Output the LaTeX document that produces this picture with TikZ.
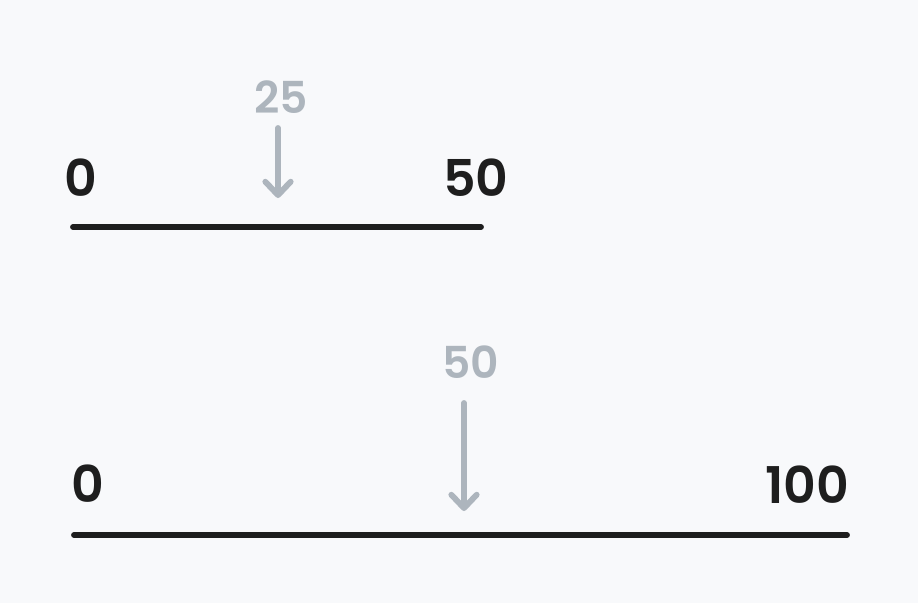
\documentclass[tikz,border=0pt]{standalone}
\usepackage{fontspec}
\setmainfont{Poppins}[BoldFont=Poppins SemiBold]
\usepackage{xcolor}
\usepackage{tikz}
\usetikzlibrary{arrows.meta}

\definecolor{bgcol}{HTML}{F8F9FB}
\definecolor{inkcol}{HTML}{1E1E1E}
\definecolor{markcol}{HTML}{ADB5BD}

\tikzset{
	numline/.style={draw=inkcol, line width=4.4pt, line cap=round},
	endlabel/.style={text=inkcol, inner sep=0pt, font=\fontsize{38}{40}\selectfont\bfseries},
	midlabel/.style={text=markcol, inner sep=0pt, font=\fontsize{33}{36}\selectfont\bfseries},
	pointer/.style={draw=markcol, line width=4.4pt, line cap=round,
		-{Straight Barb[length=10pt, width=19pt, round]}}
}

\begin{document}
\begin{tikzpicture}[x=0.75pt, y=-0.75pt]

\fill[bgcol] (0,0) rectangle (918,603);
\useasboundingbox (0,0) rectangle (918,603);

% upper line: 0 .. 50
\coordinate (a0) at (73,227);
\coordinate (a50) at (481,227);
\draw[numline] (a0) -- (a50);
\node[endlabel] (la0) at (81,178) {0};
\node[endlabel] (la50) at (476,178) {50};
\node[midlabel] (la25) at (281,97) {25};
\coordinate (ta) at (278,128);
\coordinate (ha) at (278,198);
\draw[pointer] (ta) -- (ha);

% lower line: 0 .. 100
\coordinate (b0) at (74,535);
\coordinate (b100) at (847,535);
\draw[numline] (b0) -- (b100);
\node[endlabel] (lb0) at (88,484) {0};
\node[endlabel] (lb100) at (807,485) {100};
\node[midlabel] (lb50) at (471,362) {50};
\coordinate (tb) at (464,403);
\coordinate (hb) at (464,511);
\draw[pointer] (tb) -- (hb);

\end{tikzpicture}
\end{document}
